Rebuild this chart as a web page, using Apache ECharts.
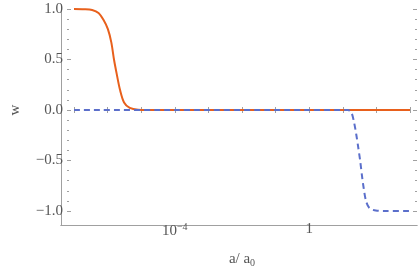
<!DOCTYPE html>
<html><head><meta charset="utf-8">
<script src="https://cdn.jsdelivr.net/npm/echarts@6/dist/echarts.min.js"></script>
<style>html,body{margin:0;padding:0;background:#fff}#c{width:418px;height:273px}</style>
</head><body><div id="c"></div>
<script>
// a/a0 values and w for the orange (solid) curve
const orangeA = [1e-7, 2e-7, 3.47e-7, 5.37e-7, 7.59e-7, 1.02e-6, 1.29e-6, 1.55e-6, 1.86e-6, 2.34e-6, 3.09e-6, 4.57e-6, 8.1e-6, 3.2e-5, 1e-3, 1, 1e3];
const orangeW = [1.0, 0.998, 0.99, 0.96, 0.89, 0.80, 0.67, 0.50, 0.36, 0.20, 0.075, 0.02, 0.003, 0.0, 0.0, 0.0, 0.0];
// a/a0 values and w for the blue (dashed) curve
const blueA = [1e-7, 1e-4, 1, 14.1, 17.8, 21.4, 25.1, 28.8, 33.1, 37.2, 41.7, 49, 61.7, 95.5, 200, 1e3];
const blueW = [0, 0, 0, 0, -0.02, -0.115, -0.24, -0.37, -0.51, -0.65, -0.77, -0.9, -0.97, -0.995, -1, -1];
// tick labels
const xLabelExps = [-4, 0];
const yTickLabels = {"1": "1.0", "0.5": "0.5", "0": "0.0", "-0.5": "\u22120.5", "-1": "\u22121.0"};

const FONT = 'Liberation Serif';
const TXT = '#555';
const LINE = '#a0a0a0';

function pairs(xs, ys){ return xs.map((x,i)=>[x, ys[i]]); }

const chart = echarts.init(document.getElementById('c'), null, {renderer:'canvas'});
const dataX = (pos, offset, labels) => ({
  type:'log', logBase:10, gridIndex:0, position:pos, offset:offset,
  min:1e-7, max:1e3, interval:1,
  axisLine:{show:false}, splitLine:{show:false},
  axisTick:{show:true, inside:true, length:3, lineStyle:{color:LINE}},
  axisLabel:{show:labels, margin:7, color:TXT, fontFamily:FONT, fontSize:15,
    formatter:function(v){
      const e = Math.round(Math.log10(v));
      if (Math.abs(Math.log10(v)-e) > 1e-6) return '';
      if (xLabelExps.indexOf(e) < 0) return '';
      if (e === 0) return '1';
      return '{b|10}{s|' + (e<0?'\u2212':'') + Math.abs(e) + '}';
    },
    rich:{b:{fontFamily:FONT, fontSize:15, color:TXT}, s:{fontFamily:FONT, fontSize:10, color:TXT, padding:[0,0,9,0]}}
  }
});
const dataY = (pos, labels) => ({
  type:'value', gridIndex:0, position:pos, offset:7, min:-1, max:1, interval:0.5,
  axisLine:{show:false}, splitLine:{show:false},
  axisTick:{show:true, inside:true, length:4, lineStyle:{color:LINE}},
  minorTick:{show:true, splitNumber:5, length:2, lineStyle:{color:LINE}},
  axisLabel:{show:labels, margin:4, color:TXT, fontFamily:FONT, fontSize:15,
    formatter:function(v){ const k = String(Math.round(v*10)/10); return yTickLabels[k] || ''; }}
});
const frameAxis = (t, pos) => ({
  type:'value', gridIndex:1, position:pos, min:0, max:1,
  axisLine:{show:true, lineStyle:{color:LINE, width:1}},
  axisTick:{show:false}, axisLabel:{show:false}, splitLine:{show:false}
});

chart.setOption({
  animation:false,
  grid:[
    {left:68, right:8, top:9, bottom:52},
    {left:61, right:1, top:5, bottom:48}
  ],
  xAxis:[
    Object.assign(dataX('bottom', 4, true), {
      name:'{a|a/ a}{s|0}', nameLocation:'middle', nameGap:36,
      nameTextStyle:{rich:{a:{fontFamily:FONT, fontSize:15, color:TXT}, s:{fontFamily:FONT, fontSize:10, color:TXT, padding:[7,0,0,0]}}}
    }),
    dataX('top', 4, false),
    frameAxis('x','bottom'),
    frameAxis('x','top')
  ],
  yAxis:[
    Object.assign(dataY('left', true), {
      name:'w', nameLocation:'middle', nameGap:44, nameRotate:90,
      nameTextStyle:{fontFamily:FONT, fontSize:15, color:TXT}
    }),
    dataY('right', false),
    frameAxis('y','left'),
    frameAxis('y','right')
  ],
  series:[
    {type:'line', xAxisIndex:0, yAxisIndex:0, data:pairs(orangeA, orangeW), smooth:0.3, showSymbol:false,
     lineStyle:{color:'#E8601C', width:2}, z:3},
    {type:'line', xAxisIndex:0, yAxisIndex:0, data:pairs(blueA, blueW), smooth:0.3, showSymbol:false,
     lineStyle:{color:'#5B6FCB', width:2, type:[6,4]}, z:4}
  ]
});
</script></body></html>
